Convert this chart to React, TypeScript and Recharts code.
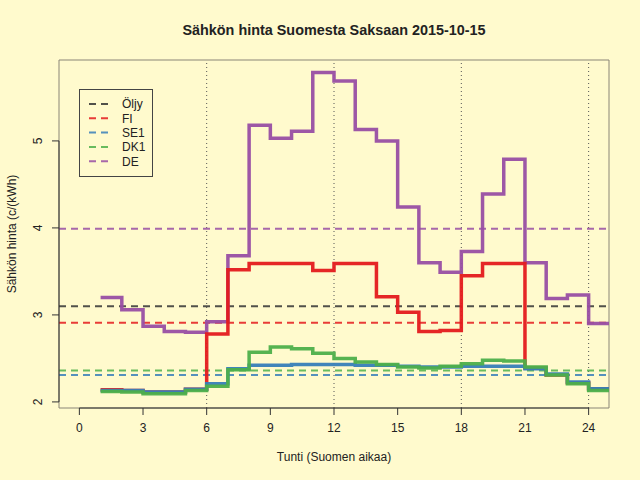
import React from "react";
import {
  LineChart,
  Line,
  XAxis,
  YAxis,
  ReferenceLine,
  ReferenceArea,
  Customized,
} from "recharts";

const hours = [1, 2, 3, 4, 5, 6, 7, 8, 9, 10, 11, 12, 13, 14, 15, 16, 17, 18, 19, 20, 21, 22, 23, 24, 25];
const de = [3.2, 3.06, 2.87, 2.81, 2.8, 2.92, 3.68, 5.18, 5.03, 5.11, 5.785, 5.69, 5.13, 5.0, 4.24, 3.6, 3.49, 3.73, 4.39, 4.79, 3.6, 3.19, 3.23, 2.9, 2.9];
const fi = [2.14, 2.13, 2.115, 2.115, 2.145, 2.78, 3.52, 3.59, 3.59, 3.59, 3.51, 3.59, 3.59, 3.21, 3.03, 2.81, 2.82, 3.45, 3.59, 3.59, 2.39, 2.31, 2.22, 2.15, 2.15];
const se1 = [2.13, 2.13, 2.115, 2.115, 2.145, 2.21, 2.38, 2.42, 2.42, 2.43, 2.43, 2.43, 2.42, 2.42, 2.41, 2.4, 2.4, 2.41, 2.41, 2.41, 2.38, 2.32, 2.23, 2.15, 2.15];
const dk1 = [2.12, 2.115, 2.095, 2.095, 2.13, 2.18, 2.37, 2.57, 2.63, 2.61, 2.56, 2.5, 2.46, 2.43, 2.4, 2.39, 2.41, 2.44, 2.48, 2.47, 2.4, 2.31, 2.21, 2.13, 2.13];

const averageNames = ["Öljy", "FI", "SE1", "DK1", "DE"];
const averageValues = [3.1, 2.91, 2.31, 2.36, 3.99];
const averageColors = ["#333333", "#E41A1C", "#377EB8", "#4DAF4A", "#984EA3"];

const xTicks = [0, 3, 6, 9, 12, 15, 18, 21, 24];
const yTicks = [2, 3, 4, 5];
const dayLines = [6, 12, 18, 24];

const X_DOMAIN: [number, number] = [-0.96, 24.96];
const Y_DOMAIN: [number, number] = [1.93, 5.93];

const data = hours.map((h, i) => ({ hour: h, de: de[i], fi: fi[i], se1: se1[i], dk1: dk1[i] }));

const FONT = "'Liberation Sans', Arial, Helvetica, sans-serif";

const XTick = (props: any) => {
  const { x, y, payload } = props;
  return (
    <text x={x} y={y + 15} textAnchor="middle" fontSize={12} fontFamily={FONT} fill="#222">
      {payload.value}
    </text>
  );
};

const YTick = (props: any) => {
  const { x, y, payload } = props;
  const tx = x - 8;
  return (
    <text
      x={tx}
      y={y}
      textAnchor="middle"
      fontSize={12}
      fontFamily={FONT}
      fill="#222"
      transform={`rotate(-90, ${tx}, ${y})`}
    >
      {payload.value}
    </text>
  );
};

const Decor = () => (
  <g fontFamily={FONT}>
    <text x={334} y={35} textAnchor="middle" fontSize={14.4} fontWeight="bold" fill="#222">
      Sähkön hinta Suomesta Saksaan 2015-10-15
    </text>
    <text x={334} y={461} textAnchor="middle" fontSize={12} fill="#222">
      Tunti (Suomen aikaa)
    </text>
    <text
      x={16}
      y={234}
      textAnchor="middle"
      fontSize={12}
      fill="#222"
      transform="rotate(-90, 16, 234)"
    >
      Sähkön hinta (c/(kWh)
    </text>
    <rect x={79.5} y={89.5} width={73} height={87} fill="none" stroke="#444" strokeWidth={1} />
    {averageNames.map((n, i) => {
      const yy = 104 + i * 14.3;
      return (
        <g key={n}>
          <line
            x1={89}
            x2={109}
            y1={yy}
            y2={yy}
            stroke={averageColors[i]}
            strokeWidth={2}
            strokeDasharray="7 5"
            strokeOpacity={0.85}
          />
          <text x={122} y={yy + 4.3} fontSize={12} fill="#222">
            {n}
          </text>
        </g>
      );
    })}
  </g>
);

export default function App() {
  return (
    <div style={{ position: "absolute", left: 0, top: 0, width: 640, height: 480, background: "#FFFACD" }}>
      <LineChart width={640} height={480} data={data} margin={{ top: 60, right: 31, left: 0, bottom: 42 }}>
        <XAxis
          type="number"
          dataKey="hour"
          domain={X_DOMAIN}
          ticks={xTicks}
          allowDataOverflow
          axisLine={false}
          tickLine={{ stroke: "#333" }}
          tickSize={7}
          tick={<XTick />}
          height={30}
          interval={0}
        />
        <YAxis
          type="number"
          domain={Y_DOMAIN}
          ticks={yTicks}
          allowDataOverflow
          axisLine={false}
          tickLine={{ stroke: "#333" }}
          tickSize={7}
          tick={<YTick />}
          width={59}
          interval={0}
        />
        <ReferenceArea
          x1={X_DOMAIN[0]}
          x2={X_DOMAIN[1]}
          y1={Y_DOMAIN[0]}
          y2={Y_DOMAIN[1]}
          fill="none"
          stroke="#8a8577"
          strokeWidth={1}
          ifOverflow="visible"
        />
        {dayLines.map((d) => (
          <ReferenceLine key={d} x={d} stroke="#555" strokeDasharray="1 3" strokeWidth={1} />
        ))}
        {averageValues.map((v, i) => (
          <ReferenceLine
            key={averageNames[i]}
            y={v}
            stroke={averageColors[i]}
            strokeWidth={2}
            strokeDasharray="7 5"
            strokeOpacity={0.85}
          />
        ))}
        <ReferenceLine
          segment={[
            { x: 0, y: Y_DOMAIN[0] },
            { x: 24, y: Y_DOMAIN[0] },
          ]}
          stroke="#333"
          ifOverflow="visible"
        />
        <ReferenceLine
          segment={[
            { x: X_DOMAIN[0], y: 2 },
            { x: X_DOMAIN[0], y: 5 },
          ]}
          stroke="#333"
          ifOverflow="visible"
        />
        <Line type="stepAfter" dataKey="de" stroke="#984EA3" strokeWidth={3.5} dot={false} isAnimationActive={false} strokeOpacity={0.95} />
        <Line type="stepAfter" dataKey="fi" stroke="#E41A1C" strokeWidth={3.5} dot={false} isAnimationActive={false} strokeOpacity={0.95} />
        <Line type="stepAfter" dataKey="se1" stroke="#377EB8" strokeWidth={3.5} dot={false} isAnimationActive={false} strokeOpacity={0.95} />
        <Line type="stepAfter" dataKey="dk1" stroke="#4DAF4A" strokeWidth={3.5} dot={false} isAnimationActive={false} strokeOpacity={0.95} />
        <Customized component={Decor} />
      </LineChart>
    </div>
  );
}
